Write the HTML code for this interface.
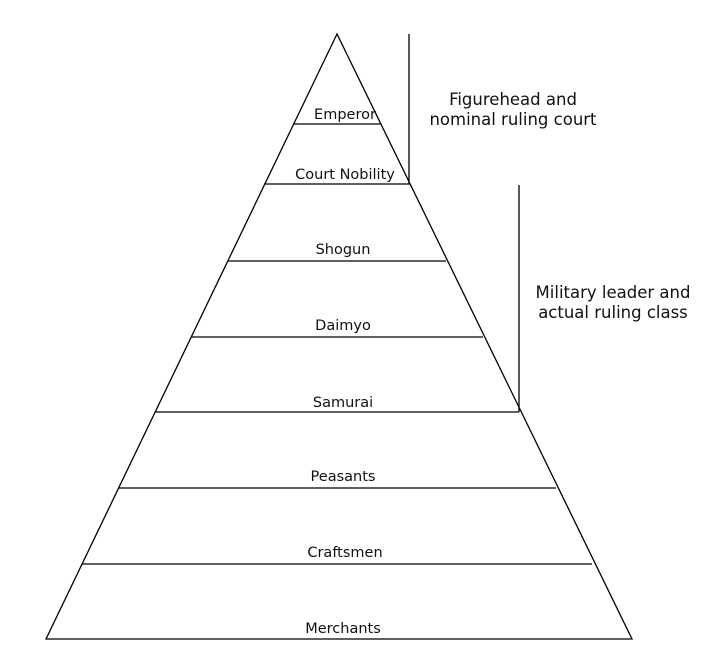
<!DOCTYPE html>
<html><head><style>body{margin:0;background:#fff}</style></head><body>
<svg width="718" height="658" xmlns="http://www.w3.org/2000/svg" font-family="DejaVu Sans, sans-serif">
<g stroke="#000" stroke-width="1.3" fill="none">
<polygon points="337,34 46,639 632,639"/>
<line x1="293" y1="124" x2="381" y2="124"/>
<line x1="264" y1="184" x2="410" y2="184"/>
<line x1="228" y1="261" x2="446" y2="261"/>
<line x1="191" y1="337" x2="483" y2="337"/>
<line x1="155" y1="412" x2="519" y2="412"/>
<line x1="118" y1="488" x2="556" y2="488"/>
<line x1="82" y1="564" x2="592" y2="564"/>
<line x1="409" y1="34" x2="409" y2="184"/>
<line x1="519" y1="185" x2="519" y2="412"/>
</g>
<g font-size="14.5" text-anchor="middle" fill="#111">
<text x="345" y="119">Emperor</text>
<text x="345" y="179">Court Nobility</text>
<text x="343" y="254">Shogun</text>
<text x="343" y="330">Daimyo</text>
<text x="343" y="407">Samurai</text>
<text x="343" y="481">Peasants</text>
<text x="345" y="557">Craftsmen</text>
<text x="343" y="633">Merchants</text>
</g>
<g font-size="16.5" text-anchor="middle" fill="#111">
<text x="513" y="105">Figurehead and</text>
<text x="513" y="125">nominal ruling court</text>
<text x="613" y="298">Military leader and</text>
<text x="613" y="318">actual ruling class</text>
</g>
</svg>
</body></html>
